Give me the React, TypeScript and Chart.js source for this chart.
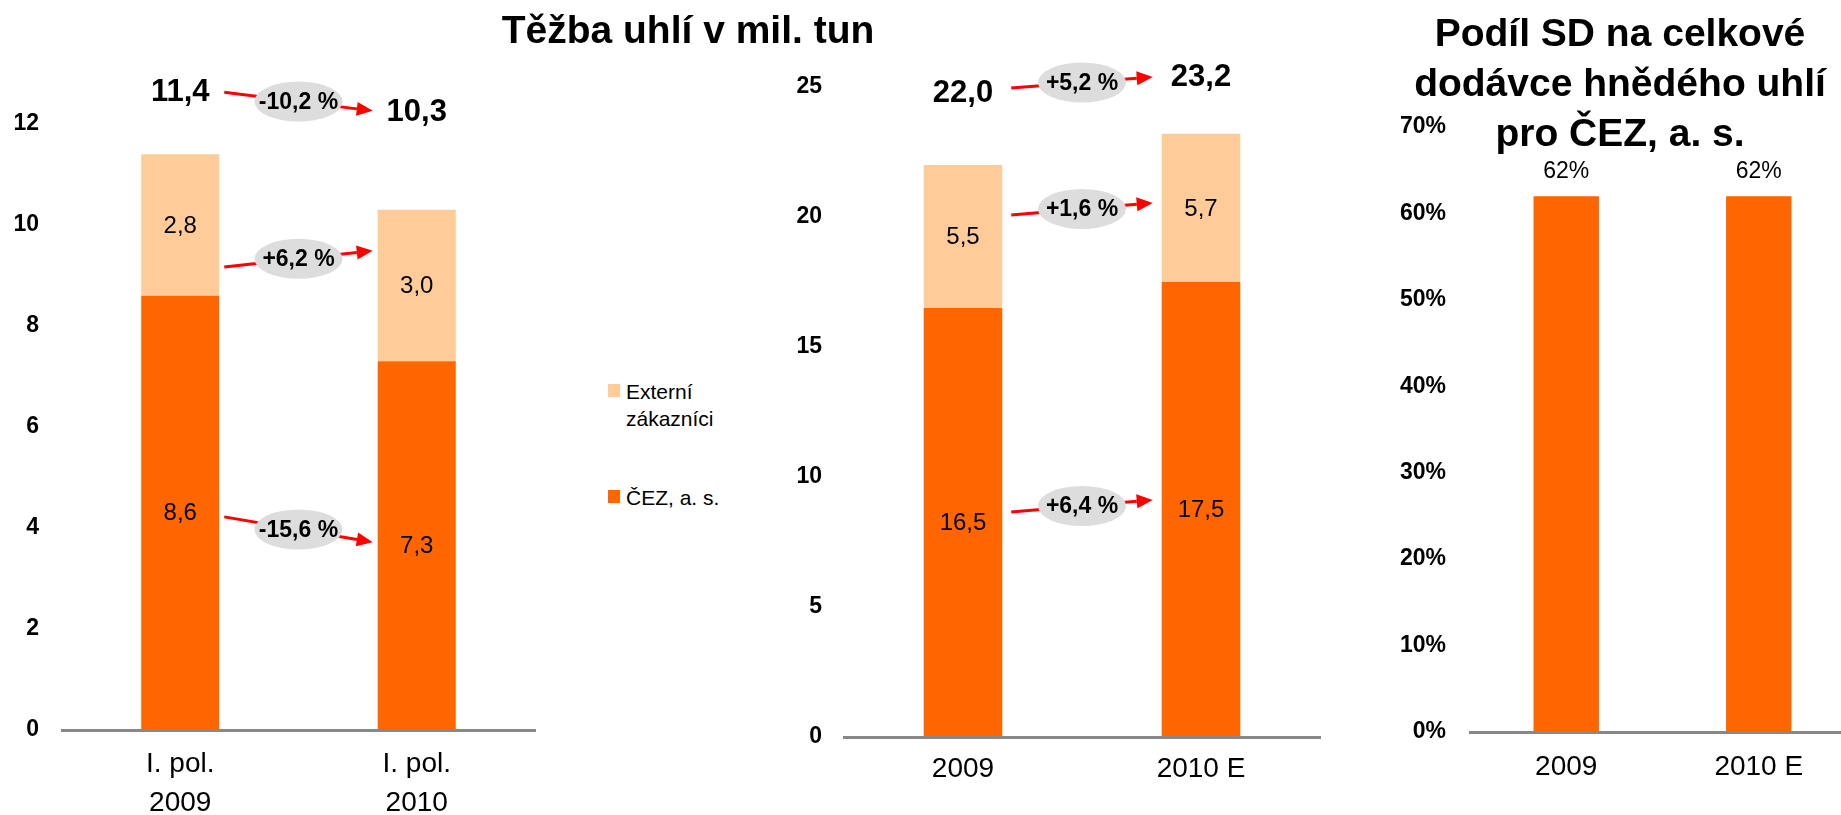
import React, { useEffect, useRef } from 'react';
import { Chart, registerables } from 'chart.js';

Chart.register(...registerables);

const FONT = "'Liberation Sans', Arial, Helvetica, sans-serif";
const DARK = '#FF6600';
const LIGHT = '#FFCC99';

// ---------- data ----------
const seriesCez = 'ČEZ, a. s.';
const seriesExternal = 'Externí zákazníci';

const halfYearCategories = [['I. pol.', '2009'], ['I. pol.', '2010']];
const halfYearCez = [8.6, 7.3];
const halfYearExternal = [2.8, 3.0];
const halfYearChanges = ['-10,2 %', '+6,2 %', '-15,6 %'];

const yearCategories = ['2009', '2010 E'];
const yearCez = [16.5, 17.5];
const yearExternal = [5.5, 5.7];
const yearChanges = ['+5,2 %', '+1,6 %', '+6,4 %'];

const shareCategories = ['2009', '2010 E'];
const shareValues = [62, 62];

const titleProduction = 'Těžba uhlí v mil. tun';
const titleShare = ['Podíl SD na celkové', 'dodávce hnědého uhlí', 'pro ČEZ, a. s.'];

// ---------- annotation placement (value units of each y scale) ----------
const halfYearNotes = {
  totalY: [12.63, 12.22],
  arrows: [[12.63, 12.26], [9.17, 9.49], [4.22, 3.72]],
  gap: 5,
};
const yearNotes = {
  totalY: [24.77, 25.38],
  arrows: [[24.96, 25.38], [20.08, 20.54], [8.65, 9.12]],
  gap: 9,
};

const fmt = (v: number) => v.toFixed(1).replace('.', ',');

function drawArrow(ctx: CanvasRenderingContext2D, x1: number, y1: number, x2: number, y2: number) {
  const ang = Math.atan2(y2 - y1, x2 - x1);
  const L = 16;
  const W = 7;
  const bx = x2 - L * Math.cos(ang);
  const by = y2 - L * Math.sin(ang);
  ctx.strokeStyle = '#FF0000';
  ctx.lineWidth = 3;
  ctx.beginPath();
  ctx.moveTo(x1, y1);
  ctx.lineTo(bx, by);
  ctx.stroke();
  ctx.fillStyle = '#FF0000';
  ctx.beginPath();
  ctx.moveTo(x2, y2);
  ctx.lineTo(bx + W * Math.sin(ang), by - W * Math.cos(ang));
  ctx.lineTo(bx - W * Math.sin(ang), by + W * Math.cos(ang));
  ctx.closePath();
  ctx.fill();
}

function stackNotesPlugin(notes: any, changes: string[]) {
  return {
    id: 'stackNotes',
    afterDatasetsDraw(chart: any) {
      const ctx: CanvasRenderingContext2D = chart.ctx;
      const yScale = chart.scales.y;
      const metas = chart.data.datasets.map((_: any, i: number) => chart.getDatasetMeta(i));
      ctx.save();
      ctx.textAlign = 'center';
      ctx.textBaseline = 'middle';
      ctx.fillStyle = '#000';
      ctx.font = `24px ${FONT}`;
      metas.forEach((meta: any, di: number) => {
        meta.data.forEach((el: any, i: number) => {
          const v = chart.data.datasets[di].data[i];
          const p = el.getProps(['x', 'y', 'base'], true);
          ctx.fillText(fmt(v), p.x, (p.y + p.base) / 2 + 1);
        });
      });
      const bars = metas[0].data;
      ctx.font = `bold 31px ${FONT}`;
      bars.forEach((el: any, i: number) => {
        const total = chart.data.datasets.reduce((s: number, d: any) => s + d.data[i], 0);
        ctx.fillText(fmt(total), el.x, yScale.getPixelForValue(notes.totalY[i]));
      });
      const a = bars[0];
      const b = bars[1];
      const x1 = a.x + a.width / 2 + notes.gap;
      const x2 = b.x - b.width / 2 - notes.gap;
      notes.arrows.forEach((pair: number[], k: number) => {
        const y1 = yScale.getPixelForValue(pair[0]);
        const y2 = yScale.getPixelForValue(pair[1]);
        drawArrow(ctx, x1, y1, x2, y2);
        const cx = (x1 + x2) / 2;
        const cy = (y1 + y2) / 2;
        ctx.fillStyle = '#DDDDDD';
        ctx.beginPath();
        ctx.ellipse(cx, cy, 44, 20, 0, 0, Math.PI * 2);
        ctx.fill();
        ctx.fillStyle = '#000';
        ctx.font = `bold 23px ${FONT}`;
        ctx.fillText(changes[k], cx, cy + 1);
      });
      ctx.restore();
    },
  };
}

const shareLabelsPlugin = {
  id: 'shareLabels',
  afterDatasetsDraw(chart: any) {
    const ctx: CanvasRenderingContext2D = chart.ctx;
    ctx.save();
    ctx.textAlign = 'center';
    ctx.textBaseline = 'middle';
    ctx.fillStyle = '#000';
    ctx.font = `23px ${FONT}`;
    chart.getDatasetMeta(0).data.forEach((el: any, i: number) => {
      ctx.fillText(`${chart.data.datasets[0].data[i]}%`, el.x, el.y - 24);
    });
    ctx.restore();
  },
};

function axes(opts: any) {
  return {
    x: {
      stacked: true,
      grid: { display: false, drawTicks: false },
      border: { display: true, color: '#888888', width: 3, z: 1 },
      ticks: {
        color: '#000',
        font: { family: FONT, size: 28, lineHeight: 1.42 },
        padding: opts.catPad,
        maxRotation: 0,
        autoSkip: false,
      },
      afterFit: (s: any) => {
        s.height = opts.xHeight;
      },
    },
    y: {
      stacked: true,
      min: 0,
      max: opts.max,
      grid: { display: false, drawTicks: false },
      border: { display: false },
      ticks: {
        stepSize: opts.step,
        color: '#000',
        font: { family: FONT, size: 23, weight: 'bold' },
        padding: opts.tickPad,
        callback: opts.tickFmt || ((v: any) => `${v}`),
      },
      afterFit: (s: any) => {
        s.width = opts.yWidth;
      },
    },
  };
}

function baseOptions(opts: any) {
  return {
    responsive: false,
    animation: false,
    devicePixelRatio: 1,
    layout: { padding: opts.padding },
    plugins: { legend: { display: false }, tooltip: { enabled: false }, title: { display: false } },
    scales: axes(opts),
  };
}

function stackedConfig(labels: any[], cez: number[], ext: number[], opts: any, plugin: any) {
  return {
    type: 'bar',
    data: {
      labels,
      datasets: [
        { label: seriesCez, data: cez, backgroundColor: DARK, categoryPercentage: 1, barPercentage: 0.33 },
        { label: seriesExternal, data: ext, backgroundColor: LIGHT, categoryPercentage: 1, barPercentage: 0.33 },
      ],
    },
    options: baseOptions(opts),
    plugins: [plugin],
  };
}

const halfYearConfig = () =>
  stackedConfig(
    halfYearCategories,
    halfYearCez,
    halfYearExternal,
    { max: 12, step: 2, yWidth: 62, xHeight: 85, catPad: 14, tickPad: 23, padding: { top: 124, right: 25, left: 0, bottom: 0 } },
    stackNotesPlugin(halfYearNotes, halfYearChanges)
  );

const yearConfig = () =>
  stackedConfig(
    yearCategories,
    yearCez,
    yearExternal,
    { max: 25, step: 5, yWidth: 104, xHeight: 78, catPad: 12, tickPad: 22, padding: { top: 87, right: 20, left: 0, bottom: 0 } },
    stackNotesPlugin(yearNotes, yearChanges)
  );

const shareConfig = () => ({
  type: 'bar',
  data: {
    labels: shareCategories,
    datasets: [{ label: seriesCez, data: shareValues, backgroundColor: DARK, categoryPercentage: 1, barPercentage: 0.34 }],
  },
  options: baseOptions({
    max: 70,
    step: 10,
    yWidth: 110,
    xHeight: 83,
    catPad: 15,
    tickPad: 24,
    tickFmt: (v: any) => `${v}%`,
    padding: { top: 127, right: 15, left: 0, bottom: 0 },
  }),
  plugins: [shareLabelsPlugin],
});

function ChartCanvas({ config, left, width }: { config: () => any; left: number; width: number }) {
  const ref = useRef<HTMLCanvasElement | null>(null);
  useEffect(() => {
    const chart = new Chart(ref.current as HTMLCanvasElement, config() as any);
    return () => chart.destroy();
  }, []);
  return (
    <canvas
      ref={ref}
      width={width}
      height={815}
      style={{ position: 'absolute', left, top: 0, width, height: 815 }}
    />
  );
}

function LegendItem({ color, text, top }: { color: string; text: string[]; top: number }) {
  return (
    <>
      <div style={{ position: 'absolute', left: 608, top: top + 6, width: 12, height: 13, background: color }} />
      <div
        style={{
          position: 'absolute',
          left: 626,
          top,
          fontFamily: FONT,
          fontSize: 21,
          lineHeight: '27px',
          color: '#000',
          whiteSpace: 'nowrap',
        }}
      >
        {text.map((t, i) => (
          <div key={i}>{t}</div>
        ))}
      </div>
    </>
  );
}

export default function App() {
  useEffect(() => {
    document.body.style.margin = '0';
    document.body.style.overflow = 'hidden';
  }, []);
  return (
    <div style={{ position: 'absolute', left: 0, top: 0, width: 1841, height: 815, overflow: 'hidden', background: '#fff' }}>
      <ChartCanvas config={halfYearConfig} left={0} width={560} />
      <ChartCanvas config={yearConfig} left={740} width={600} />
      <ChartCanvas config={shareConfig} left={1360} width={510} />
      <div
        style={{
          position: 'absolute',
          left: 388,
          top: 5,
          width: 600,
          textAlign: 'center',
          fontFamily: FONT,
          fontWeight: 'bold',
          fontSize: 39,
          lineHeight: '50px',
          color: '#000',
        }}
      >
        {titleProduction}
      </div>
      <div
        style={{
          position: 'absolute',
          left: 1370,
          top: 8,
          width: 500,
          textAlign: 'center',
          fontFamily: FONT,
          fontWeight: 'bold',
          fontSize: 39,
          lineHeight: '50px',
          color: '#000',
        }}
      >
        {titleShare.map((t, i) => (
          <div key={i}>{t}</div>
        ))}
      </div>
      <LegendItem color={LIGHT} text={seriesExternal.split(' ')} top={378} />
      <LegendItem color={DARK} text={[seriesCez]} top={484} />
    </div>
  );
}
